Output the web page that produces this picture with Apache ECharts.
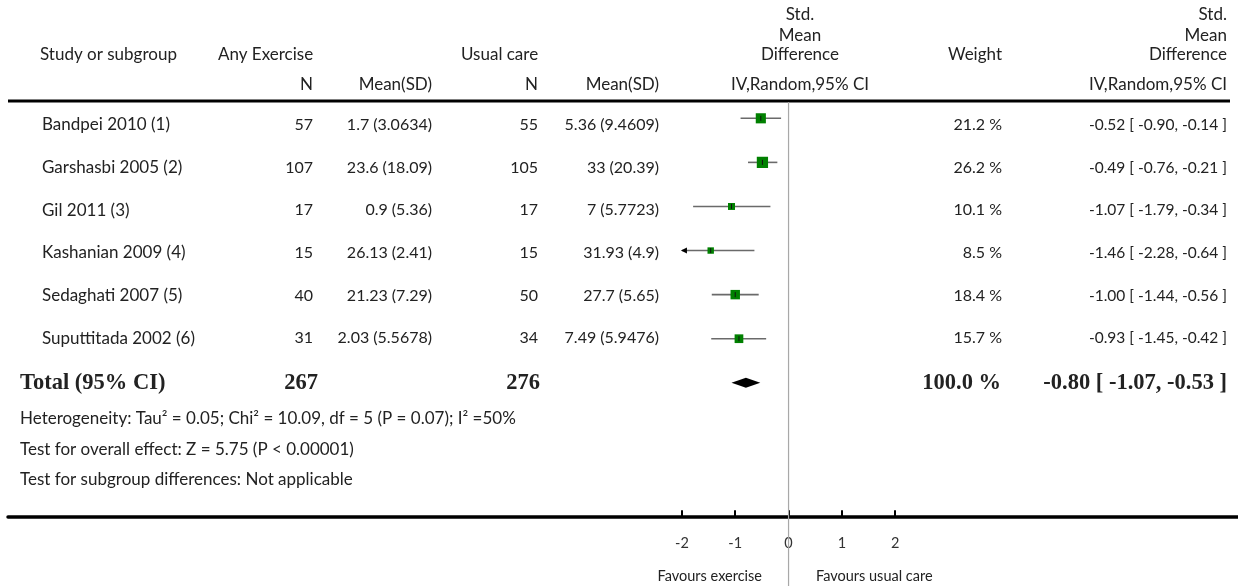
<!DOCTYPE html>
<html>
<head>
<meta charset="utf-8">
<script src="https://cdn.jsdelivr.net/npm/echarts@6/dist/echarts.min.js"></script>
<style>
html,body{margin:0;padding:0;background:#fff;}
#chart{width:1238px;height:586px;}
</style>
</head>
<body>
<div id="chart"></div>
<script>
// ---------------- data ----------------
const studies = ['Bandpei 2010 (1)', 'Garshasbi 2005 (2)', 'Gil 2011 (3)', 'Kashanian 2009 (4)', 'Sedaghati 2007 (5)', 'Suputtitada 2002 (6)'];
const exerciseN = [57, 107, 17, 15, 40, 31];
const exerciseMeanSD = ['1.7 (3.0634)', '23.6 (18.09)', '0.9 (5.36)', '26.13 (2.41)', '21.23 (7.29)', '2.03 (5.5678)'];
const usualN = [55, 105, 17, 15, 50, 34];
const usualMeanSD = ['5.36 (9.4609)', '33 (20.39)', '7 (5.7723)', '31.93 (4.9)', '27.7 (5.65)', '7.49 (5.9476)'];
const weights = [21.2, 26.2, 10.1, 8.5, 18.4, 15.7];
const smd = [-0.52, -0.49, -1.07, -1.46, -1.00, -0.93];
const ciLow = [-0.90, -0.76, -1.79, -2.28, -1.44, -1.45];
const ciHigh = [-0.14, -0.21, -0.34, -0.64, -0.56, -0.42];

const totalLabel = 'Total (95% CI)';
const totalExerciseN = 267;
const totalUsualN = 276;
const totalWeight = 100.0;
const totalSmd = -0.80;
const totalLow = -1.07;
const totalHigh = -0.53;

const footnotes = [
  'Heterogeneity: Tau\u00B2 = 0.05; Chi\u00B2 = 10.09, df = 5 (P = 0.07); I\u00B2 =50%',
  'Test for overall effect: Z = 5.75 (P < 0.00001)',
  'Test for subgroup differences: Not applicable'
];
const xTicks = [-2, -1, 0, 1, 2];
const plotMin = -2, plotMax = 2;
const favoursLeft = 'Favours exercise';
const favoursRight = 'Favours usual care';

// ---------------- layout / style ----------------
const FONT = 'Lato';
const REG = '17px ' + FONT;
const NUM = '16px ' + FONT;
const CIF = '15.5px ' + FONT;
const FOOT = '17px ' + FONT;
const BOLD = 'bold 22.5px "Liberation Serif"';
const TXT = '#222';
const col = { name: 42, exN: 313, exMean: 432, ucN: 538, ucMean: 659, smdHead: 800, weight: 1002, ci: 1227 };
const textRow0 = 125, textStep = 42.66, totalY = 383;

function fmt(v) { return v.toFixed(2); }
function ciText(e, l, h) { return fmt(e) + ' [ ' + fmt(l) + ', ' + fmt(h) + ' ]'; }

const graphics = [];
function T(text, x, y, align, font) {
  graphics.push({
    type: 'text', x: x, y: y, silent: true,
    style: { text: String(text), fill: TXT, font: font || REG,
             textAlign: align || 'left', textVerticalAlign: 'middle',
             align: align || 'left', verticalAlign: 'middle' }
  });
}

// headers
T('Study or subgroup', 40, 55, 'left');
T('Any Exercise', 218, 55, 'left');
T('Usual care', 461, 55, 'left');
T('N', col.exN, 85, 'right');
T('Mean(SD)', col.exMean, 85, 'right');
T('N', col.ucN, 85, 'right');
T('Mean(SD)', col.ucMean, 85, 'right');
T('Std.', col.smdHead, 15, 'center');
T('Mean', col.smdHead, 36, 'center');
T('Difference', col.smdHead, 55, 'center');
T('IV,Random,95% CI', col.smdHead, 85, 'center');
T('Weight', col.weight, 55, 'right');
T('Std.', col.ci, 15, 'right');
T('Mean', col.ci, 36, 'right');
T('Difference', col.ci, 55, 'right');
T('IV,Random,95% CI', col.ci, 85, 'right');

// top rule
graphics.push({ type: 'line', silent: true, shape: { x1: 8, y1: 101, x2: 1230, y2: 101 }, style: { stroke: '#000', lineWidth: 3 } });

// study rows
studies.forEach(function (s, i) {
  const y = textRow0 + textStep * i;
  T(s, col.name, y, 'left');
  T(exerciseN[i], col.exN, y, 'right', NUM);
  T(exerciseMeanSD[i], col.exMean, y, 'right', NUM);
  T(usualN[i], col.ucN, y, 'right', NUM);
  T(usualMeanSD[i], col.ucMean, y, 'right', NUM);
  T(weights[i].toFixed(1) + ' %', col.weight, y, 'right', NUM);
  T(ciText(smd[i], ciLow[i], ciHigh[i]), col.ci, y, 'right', CIF);
});

// total row
T(totalLabel, 20, totalY, 'left', BOLD);
T(totalExerciseN, 318, totalY, 'right', BOLD);
T(totalUsualN, 540, totalY, 'right', BOLD);
T(totalWeight.toFixed(1) + ' %', 1001, totalY, 'right', BOLD);
T(ciText(totalSmd, totalLow, totalHigh), col.ci, totalY, 'right', BOLD);

// footnotes
footnotes.forEach(function (f, i) { T(f, 20, 419 + 30.5 * i, 'left', FOOT); });

// favours labels
T(favoursLeft, 762, 576, 'right', '14.5px ' + FONT);
T(favoursRight, 816, 576, 'left', '14.5px ' + FONT);

const studyData = studies.map(function (s, i) { return [smd[i], i, ciLow[i], ciHigh[i], weights[i]]; });
const totalRowIndex = studies.length;

const chart = echarts.init(document.getElementById('chart'), null, { renderer: 'canvas' });
chart.setOption({
  animation: false,
  backgroundColor: '#fff',
  grid: { left: 8, right: 0, top: 96.26, height: 420.1 },
  xAxis: {
    type: 'value', min: -14.64, max: 8.43, position: 'bottom',
    splitLine: { show: false },
    axisLine: { show: true, onZero: false, lineStyle: { color: '#000', width: 3.5 } },
    axisTick: { show: true, inside: true, length: 6, customValues: xTicks, lineStyle: { color: '#000', width: 2 } },
    axisLabel: { show: true, customValues: xTicks, margin: 19, color: '#333', fontFamily: FONT, fontSize: 14.5,
                 formatter: function (v) { return String(v); } }
  },
  yAxis: { type: 'value', inverse: true, min: -0.5, max: 9.03, show: false },
  graphic: graphics,
  series: [
    {
      type: 'custom', name: 'zero', clip: false, silent: true,
      data: [[0, 0]],
      renderItem: function (params, api) {
        const x = api.coord([0, 0])[0];
        return { type: 'line', shape: { x1: x, y1: 102, x2: x, y2: api.getHeight() },
                 style: { stroke: '#a8a8a8', lineWidth: 1.2 } };
      }
    },
    {
      type: 'custom', name: 'studies', clip: false, silent: true,
      encode: { x: 0, y: 1 },
      data: studyData,
      renderItem: function (params, api) {
        const est = api.value(0), row = api.value(1), lo = api.value(2), hi = api.value(3), w = api.value(4);
        const p = api.coord([est, row]);
        const pl = api.coord([Math.max(lo, plotMin), row]);
        const ph = api.coord([Math.min(hi, plotMax), row]);
        const s = 2.2 * Math.sqrt(w);
        const children = [
          { type: 'line', shape: { x1: pl[0], y1: p[1], x2: ph[0], y2: p[1] }, style: { stroke: '#6a6a6a', lineWidth: 1.6 } },
          { type: 'rect', shape: { x: p[0] - s / 2, y: p[1] - s / 2, width: s, height: s }, style: { fill: '#008000' } },
          { type: 'line', shape: { x1: p[0], y1: p[1] - 2.5, x2: p[0], y2: p[1] + 2.5 }, style: { stroke: '#111', lineWidth: 1 } }
        ];
        if (lo < plotMin) {
          children.push({ type: 'polygon', shape: { points: [[pl[0] - 1, p[1]], [pl[0] + 5, p[1] - 3], [pl[0] + 5, p[1] + 3]] }, style: { fill: '#000' } });
        }
        if (hi > plotMax) {
          children.push({ type: 'polygon', shape: { points: [[ph[0] + 1, p[1]], [ph[0] - 5, p[1] - 3], [ph[0] - 5, p[1] + 3]] }, style: { fill: '#000' } });
        }
        return { type: 'group', children: children };
      }
    },
    {
      type: 'custom', name: 'total', clip: false, silent: true,
      encode: { x: 0, y: 1 },
      data: [[totalSmd, totalRowIndex, totalLow, totalHigh]],
      renderItem: function (params, api) {
        const est = api.value(0), row = api.value(1), lo = api.value(2), hi = api.value(3);
        const c = api.coord([est, row]);
        const l = api.coord([lo, row]);
        const h = api.coord([hi, row]);
        return { type: 'polygon', shape: { points: [[l[0], c[1]], [c[0], c[1] - 5], [h[0], c[1]], [c[0], c[1] + 5]] },
                 style: { fill: '#000' } };
      }
    }
  ]
});
</script>
</body>
</html>
